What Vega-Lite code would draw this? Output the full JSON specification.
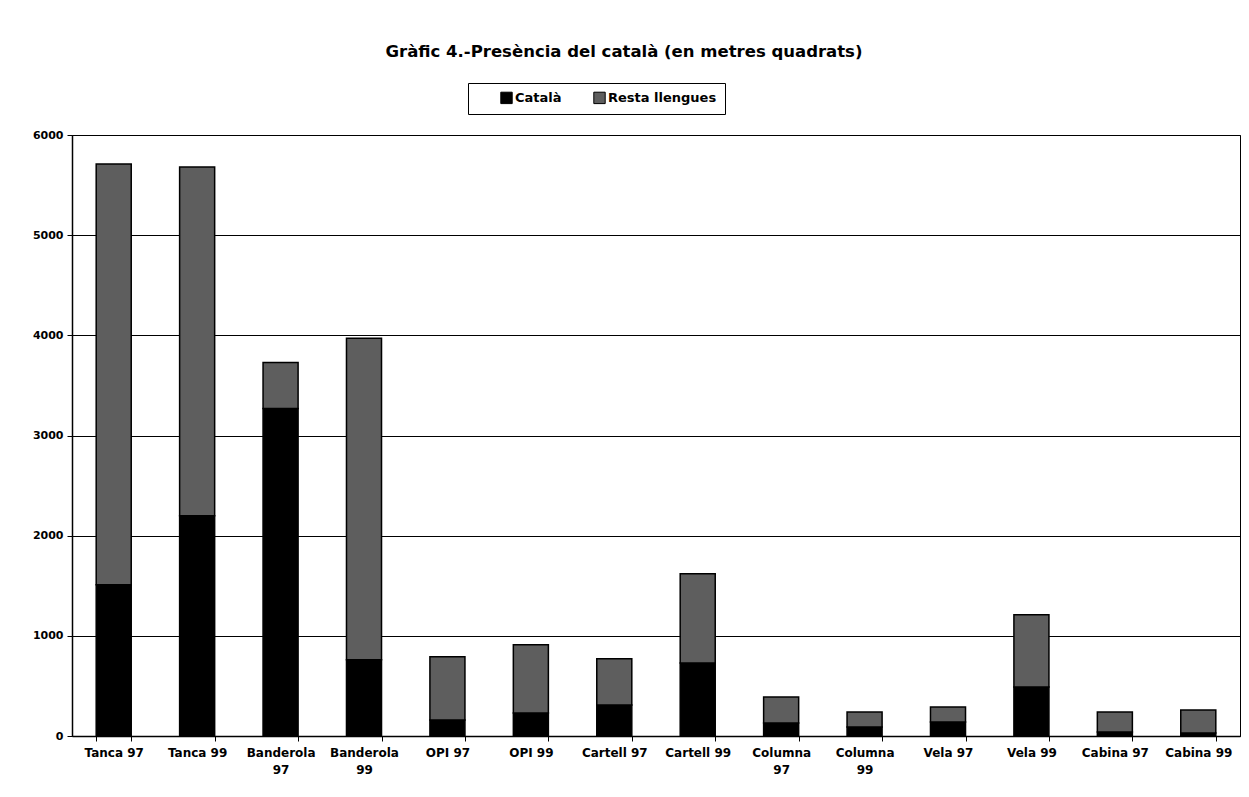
{
  "$schema": "https://vega.github.io/schema/vega-lite/v6.json",
  "autosize": "none",
  "width": 1168,
  "height": 601,
  "padding": {"left": 72, "top": 135, "right": 9, "bottom": 61},
  "background": "white",
  "title": {
    "text": "Gràfic 4.-Presència del català (en metres quadrats)",
    "font": "DejaVu Sans",
    "fontSize": 16.5,
    "fontWeight": "bold",
    "color": "black",
    "anchor": "middle",
    "dx": -32,
    "offset": 22
  },
  "data": {
    "values": [
      {"cat": "Tanca 97", "serie": "Català", "ord": 1, "v": 1510},
      {"cat": "Tanca 97", "serie": "Resta llengues", "ord": 2, "v": 4200},
      {"cat": "Tanca 99", "serie": "Català", "ord": 1, "v": 2200},
      {"cat": "Tanca 99", "serie": "Resta llengues", "ord": 2, "v": 3480},
      {"cat": "Banderola|97", "serie": "Català", "ord": 1, "v": 3270},
      {"cat": "Banderola|97", "serie": "Resta llengues", "ord": 2, "v": 460},
      {"cat": "Banderola|99", "serie": "Català", "ord": 1, "v": 760},
      {"cat": "Banderola|99", "serie": "Resta llengues", "ord": 2, "v": 3210},
      {"cat": "OPI 97", "serie": "Català", "ord": 1, "v": 160},
      {"cat": "OPI 97", "serie": "Resta llengues", "ord": 2, "v": 630},
      {"cat": "OPI 99", "serie": "Català", "ord": 1, "v": 230},
      {"cat": "OPI 99", "serie": "Resta llengues", "ord": 2, "v": 680},
      {"cat": "Cartell  97", "serie": "Català", "ord": 1, "v": 310},
      {"cat": "Cartell  97", "serie": "Resta llengues", "ord": 2, "v": 460},
      {"cat": "Cartell  99", "serie": "Català", "ord": 1, "v": 730},
      {"cat": "Cartell  99", "serie": "Resta llengues", "ord": 2, "v": 890},
      {"cat": "Columna|97", "serie": "Català", "ord": 1, "v": 130},
      {"cat": "Columna|97", "serie": "Resta llengues", "ord": 2, "v": 260},
      {"cat": "Columna|99", "serie": "Català", "ord": 1, "v": 90},
      {"cat": "Columna|99", "serie": "Resta llengues", "ord": 2, "v": 150},
      {"cat": "Vela  97", "serie": "Català", "ord": 1, "v": 140},
      {"cat": "Vela  97", "serie": "Resta llengues", "ord": 2, "v": 150},
      {"cat": "Vela 99", "serie": "Català", "ord": 1, "v": 490},
      {"cat": "Vela 99", "serie": "Resta llengues", "ord": 2, "v": 720},
      {"cat": "Cabina 97", "serie": "Català", "ord": 1, "v": 40},
      {"cat": "Cabina 97", "serie": "Resta llengues", "ord": 2, "v": 200},
      {"cat": "Cabina 99", "serie": "Català", "ord": 1, "v": 30},
      {"cat": "Cabina 99", "serie": "Resta llengues", "ord": 2, "v": 230}
    ]
  },
  "mark": {"type": "bar", "stroke": "black", "strokeWidth": 1.5},
  "encoding": {
    "x": {
      "field": "cat",
      "type": "nominal",
      "sort": null,
      "title": null,
      "scale": {"paddingInner": 0.58, "paddingOuter": 0.29},
      "axis": {
        "labelAngle": 0,
        "labelExpr": "isValid(datum.value) ? split(datum.value, '|') : ''",
        "labelFont": "DejaVu Sans",
        "labelFontSize": 12,
        "labelFontWeight": "bold",
        "labelColor": "black",
        "labelPadding": 6,
        "labelLineHeight": 17,
        "tickBand": "extent",
        "tickColor": "black",
        "tickSize": 5,
        "domainColor": "black",
        "domainWidth": 1.5,
        "grid": false
      }
    },
    "y": {
      "field": "v",
      "type": "quantitative",
      "stack": "zero",
      "title": null,
      "scale": {"domain": [0, 6000], "nice": false},
      "axis": {
        "values": [0, 1000, 2000, 3000, 4000, 5000, 6000],
        "format": "d",
        "labelFont": "DejaVu Sans",
        "labelFontSize": 11,
        "labelFontWeight": "bold",
        "labelColor": "black",
        "labelPadding": 4,
        "tickColor": "black",
        "tickSize": 5,
        "domainColor": "black",
        "domainWidth": 1.5,
        "grid": true,
        "gridColor": "black",
        "gridWidth": 1,
        "gridOpacity": 1
      }
    },
    "color": {
      "field": "serie",
      "type": "nominal",
      "scale": {"domain": ["Català", "Resta llengues"], "range": ["#000000", "#5e5e5e"]},
      "legend": {
        "title": null,
        "orient": "none",
        "legendX": 396,
        "legendY": -52,
        "direction": "horizontal",
        "symbolType": "square",
        "symbolSize": 130,
        "symbolStrokeColor": "black",
        "symbolStrokeWidth": 1,
        "symbolOffset": 24,
        "labelExpr": "datum.label == 'Resta llengues' ? 'Resta llengues\u00a0\u00a0\u00a0\u00a0\u00a0\u00a0\u00a0\u00a0\u00a0\u00a0\u00a0\u00a0\u00a0\u00a0\u00a0\u00a0' : datum.label",
        "labelFont": "DejaVu Sans",
        "labelFontSize": 13,
        "labelFontWeight": "bold",
        "labelColor": "black",
        "labelOffset": 2,
        "labelLimit": 300,
        "columnPadding": 7,
        "strokeColor": "black",
        "fillColor": "white",
        "padding": 8
      }
    },
    "order": {"field": "ord", "type": "quantitative"}
  },
  "config": {
    "view": {"stroke": "black", "strokeWidth": 1}
  }
}
